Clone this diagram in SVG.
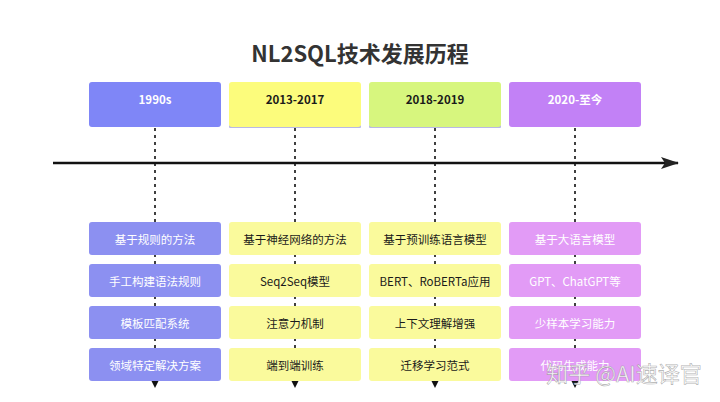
<svg xmlns="http://www.w3.org/2000/svg" width="720" height="402" viewBox="0 0 720 402">
<style>
text{font-family:"Noto Sans CJK SC","Noto Sans",sans-serif;text-anchor:middle;dominant-baseline:central}
.title{font-size:22px;font-weight:bold;fill:#333}
.hd{font-size:11.5px;font-weight:bold}
.dt{font-size:11.5px}
.w{fill:#ffffff}
.k{fill:#1a1a1a}
.dash{stroke:#111;stroke-width:1.6;stroke-dasharray:3 4;fill:none}
.c1h{fill:#7f86f7}.c2h{fill:#fcfc7c}.c3h{fill:#d7f67e}.c4h{fill:#c281f6}
.c1d{fill:#8c90f1}.c2d{fill:#fafa9c}.c4d{fill:#e29bf6}
.sh{fill:#b9b9e6}
</style>
<defs>
<marker id="ah" markerWidth="8" markerHeight="8" refX="4" refY="4" orient="auto" markerUnits="userSpaceOnUse">
<path d="M0,0 L8,4 L0,8 Z" fill="#111"/>
</marker>
<marker id="big" markerWidth="18" markerHeight="12" refX="17" refY="6" orient="auto" markerUnits="userSpaceOnUse">
<path d="M0,0 L18,6 L0,12 L4,6 Z" fill="#222"/>
</marker>
</defs>
<rect width="720" height="402" fill="#fff"/>
<text class="title" x="360" y="52">NL2SQL技术发展历程</text>

<g id="connectors">
<line x1="53" y1="163" x2="678" y2="163" stroke="#111" stroke-width="2.6" marker-end="url(#big)"/>
<line class="dash" x1="155" y1="128" x2="155" y2="384" marker-end="url(#ah)"/>
<line class="dash" x1="295" y1="128" x2="295" y2="384" marker-end="url(#ah)"/>
<line class="dash" x1="435" y1="128" x2="435" y2="384" marker-end="url(#ah)"/>
<line class="dash" x1="575" y1="128" x2="575" y2="384" marker-end="url(#ah)"/>
</g>

<g id="h1"><rect class="c1h" x="89" y="82" width="132" height="45" rx="3"/><text class="hd w" x="155" y="99">1990s</text></g>
<g id="h2"><rect class="sh" x="229" y="125" width="132" height="3" rx="1"/><rect class="c2h" x="229" y="82" width="132" height="45" rx="3"/><text class="hd k" x="295" y="99">2013-2017</text></g>
<g id="h3"><rect class="sh" x="369" y="125" width="132" height="3" rx="1"/><rect class="c3h" x="369" y="82" width="132" height="45" rx="3"/><text class="hd k" x="435" y="99">2018-2019</text></g>
<g id="h4"><rect class="c4h" x="509" y="82" width="132" height="45" rx="3"/><text class="hd w" x="575" y="99">2020-至今</text></g>

<g id="d11"><rect class="c1d" x="89" y="222" width="132" height="33" rx="3"/><text class="dt w" x="155" y="238.5">基于规则的方法</text></g>
<g id="d12"><rect class="c1d" x="89" y="264" width="132" height="33" rx="3"/><text class="dt w" x="155" y="280.5">手工构建语法规则</text></g>
<g id="d13"><rect class="c1d" x="89" y="306" width="132" height="33" rx="3"/><text class="dt w" x="155" y="322.5">模板匹配系统</text></g>
<g id="d14"><rect class="c1d" x="89" y="348" width="132" height="33" rx="3"/><text class="dt w" x="155" y="364.5">领域特定解决方案</text></g>

<g id="d21"><rect class="c2d" x="229" y="222" width="132" height="33" rx="3"/><text class="dt k" x="295" y="238.5">基于神经网络的方法</text></g>
<g id="d22"><rect class="c2d" x="229" y="264" width="132" height="33" rx="3"/><text class="dt k" x="295" y="280.5">Seq2Seq模型</text></g>
<g id="d23"><rect class="c2d" x="229" y="306" width="132" height="33" rx="3"/><text class="dt k" x="295" y="322.5">注意力机制</text></g>
<g id="d24"><rect class="c2d" x="229" y="348" width="132" height="33" rx="3"/><text class="dt k" x="295" y="364.5">端到端训练</text></g>

<g id="d31"><rect class="c2d" x="369" y="222" width="132" height="33" rx="3"/><text class="dt k" x="435" y="238.5">基于预训练语言模型</text></g>
<g id="d32"><rect class="c2d" x="369" y="264" width="132" height="33" rx="3"/><text class="dt k" x="435" y="280.5">BERT、RoBERTa应用</text></g>
<g id="d33"><rect class="c2d" x="369" y="306" width="132" height="33" rx="3"/><text class="dt k" x="435" y="322.5">上下文理解增强</text></g>
<g id="d34"><rect class="c2d" x="369" y="348" width="132" height="33" rx="3"/><text class="dt k" x="435" y="364.5">迁移学习范式</text></g>

<g id="d41"><rect class="c4d" x="509" y="222" width="132" height="33" rx="3"/><text class="dt w" x="575" y="238.5">基于大语言模型</text></g>
<g id="d42"><rect class="c4d" x="509" y="264" width="132" height="33" rx="3"/><text class="dt w" x="575" y="280.5">GPT、ChatGPT等</text></g>
<g id="d43"><rect class="c4d" x="509" y="306" width="132" height="33" rx="3"/><text class="dt w" x="575" y="322.5">少样本学习能力</text></g>
<g id="d44"><rect class="c4d" x="509" y="348" width="132" height="33" rx="3"/><text class="dt w" x="575" y="364.5">代码生成能力</text></g>

<text x="624" y="372" style="font-size:22px;fill:#fff;fill-opacity:0.9;stroke:#8a8a8a;stroke-width:0.6;stroke-opacity:0.7">知乎 @AI速译官</text>
</svg>
